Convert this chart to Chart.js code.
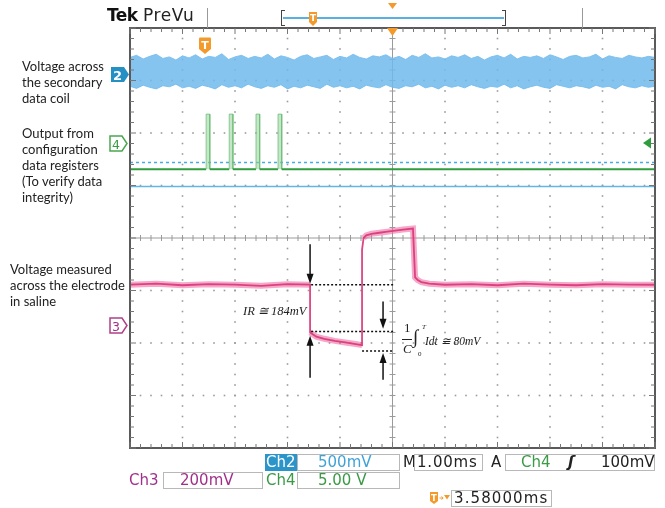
<!DOCTYPE html>
<html><head><meta charset="utf-8">
<script src="https://cdn.jsdelivr.net/npm/chart.js@4.4.1/dist/chart.umd.min.js"></script>
<style>
html,body{margin:0;padding:0;background:#fff;}
#wrap{position:relative;width:665px;height:508px;overflow:hidden;font-family:"DejaVu Sans",sans-serif;}
#c{position:absolute;left:0;top:0;}
.lab{position:absolute;font-family:Lato,"Open Sans",sans-serif;font-size:13px;line-height:16px;color:#222;white-space:nowrap;}
.box{position:absolute;border:1px solid #b8b8b8;background:#fff;box-sizing:border-box;height:17px;}
.ro{position:absolute;font-family:"DejaVu Sans",sans-serif;font-size:15px;line-height:17px;white-space:nowrap;}
.math{position:absolute;font-family:"Liberation Serif","DejaVu Serif",serif;font-style:italic;white-space:nowrap;line-height:1;color:#222;}
.abs{position:absolute;}
</style></head><body>
<div id="wrap">
<canvas id="c" width="665" height="508"></canvas>

<!-- header -->
<div class="abs" style="left:107px;top:5px;font-family:'DejaVu Sans';font-weight:bold;font-size:17px;line-height:20px;color:#111;letter-spacing:-0.5px;">Tek</div>
<div class="abs" style="left:143px;top:5px;font-family:'DejaVu Sans';font-size:17px;line-height:20px;color:#222;letter-spacing:0.6px;">PreVu</div>
<div class="abs" style="left:207px;top:8px;width:1px;height:20px;background:#999;"></div>
<div class="abs" style="left:582px;top:8px;width:1px;height:20px;background:#999;"></div>
<div class="abs" style="left:281px;top:10px;width:4px;height:16px;border:1.5px solid #444;border-right:none;box-sizing:border-box;"></div>
<div class="abs" style="left:502px;top:10px;width:4px;height:16px;border:1.5px solid #444;border-left:none;box-sizing:border-box;"></div>
<div class="abs" style="left:283px;top:17px;width:221px;height:2px;background:#5ab0e0;"></div>
<svg class="abs" style="left:308px;top:11px" width="10" height="16"><path d="M1,1 H9 V11 L5,15 L1,11 Z" fill="#f39a2b"/><text x="5" y="10" font-size="9" font-weight="bold" fill="#fff" text-anchor="middle" font-family="DejaVu Sans">T</text></svg>
<svg class="abs" style="left:388px;top:3px" width="9" height="7"><path d="M0,0 H9 L4.5,6 Z" fill="#f39a2b"/></svg>

<!-- in-plot markers -->
<svg class="abs" style="left:198px;top:37px" width="14" height="18"><path d="M1,1.5 Q1,0.5 2,0.5 H12 Q13,0.5 13,1.5 V12 L7,17 L1,12 Z" fill="#f39a2b"/><text x="7" y="12" font-size="11" font-weight="bold" fill="#fff" text-anchor="middle" font-family="DejaVu Sans">T</text></svg>
<svg class="abs" style="left:387px;top:28px" width="11" height="9"><path d="M0,0 H11 L5.5,8 Z" fill="#f39a2b"/></svg>
<svg class="abs" style="left:642px;top:137px" width="10" height="12"><path d="M9,0.5 V11.5 L1,6 Z" fill="#2f9c3e"/></svg>

<!-- channel markers -->
<svg class="abs" style="left:110px;top:66px" width="20" height="18"><path d="M1,1 H14 L19,8.5 L14,16 H1 Z" fill="#2590c4"/><text x="7.5" y="13.5" font-size="13" font-weight="bold" fill="#fff" text-anchor="middle" font-family="DejaVu Sans">2</text></svg>
<svg class="abs" style="left:109px;top:135px" width="20" height="18"><path d="M1,1 H13 L18,8.5 L13,16 H1 Z" fill="#fff" stroke="#49a84f" stroke-width="1.5"/><text x="7" y="13.5" font-size="12.5" fill="#3a9a45" text-anchor="middle" font-family="DejaVu Sans">4</text></svg>
<svg class="abs" style="left:109px;top:317px" width="20" height="18"><path d="M1,1 H13 L18,8.5 L13,16 H1 Z" fill="#fff" stroke="#b0408a" stroke-width="1.5"/><text x="7" y="13.5" font-size="12.5" fill="#a2308a" text-anchor="middle" font-family="DejaVu Sans">3</text></svg>

<!-- left labels -->
<div class="lab" style="left:22px;top:58px;">Voltage across<br>the secondary<br>data coil</div>
<div class="lab" style="left:22px;top:125px;">Output from<br>configuration<br>data registers<br>(To verify data<br>integrity)</div>
<div class="lab" style="left:10px;top:261px;">Voltage measured<br>across the electrode<br>in saline</div>

<!-- annotations -->
<div class="math" style="left:243px;top:305px;font-size:12.5px;">IR ≅ 184mV</div>
<div class="math" style="left:404px;top:321px;font-size:13px;font-style:normal;">1</div>
<div class="abs" style="left:402px;top:339px;width:10px;height:1px;background:#222;"></div>
<div class="math" style="left:403px;top:342px;font-size:13px;">C</div>
<div class="math" style="left:413px;top:327px;font-size:19px;font-style:normal;">∫</div>
<div class="math" style="left:422px;top:324px;font-size:7px;">T</div>
<div class="math" style="left:418px;top:351px;font-size:7px;font-style:normal;">0</div>
<div class="math" style="left:425px;top:336px;font-size:11.5px;">Idt ≅ 80mV</div>

<!-- bottom readouts -->
<div class="abs" style="left:265px;top:454px;width:32px;height:17px;background:#2b95c9;"></div>
<div class="ro" style="left:266px;top:454px;color:#fff;">Ch2</div>
<div class="box" style="left:297px;top:454px;width:103px;"></div>
<div class="ro" style="left:318px;top:454px;color:#3fa3d8;">500mV</div>
<div class="ro" style="left:403px;top:454px;color:#222;">M</div>
<div class="box" style="left:414px;top:454px;width:69px;"></div>
<div class="ro" style="left:417px;top:454px;color:#222;letter-spacing:0.8px;">1.00ms</div>
<div class="ro" style="left:491px;top:454px;color:#222;">A</div>
<div class="box" style="left:505px;top:454px;width:150px;"></div>
<div class="ro" style="left:521px;top:454px;color:#3a9a45;">Ch4</div>
<div class="ro" style="left:568px;top:454px;color:#222;font-style:italic;font-weight:bold;">ʃ</div>
<div class="ro" style="left:601px;top:454px;color:#222;">100mV</div>

<div class="ro" style="left:129px;top:472px;color:#a2308a;">Ch3</div>
<div class="box" style="left:163px;top:472px;width:100px;"></div>
<div class="ro" style="left:180px;top:472px;color:#a2308a;">200mV</div>
<div class="ro" style="left:266px;top:472px;color:#3a9a45;">Ch4</div>
<div class="box" style="left:297px;top:472px;width:103px;"></div>
<div class="ro" style="left:318px;top:472px;color:#3a9a45;">5.00 V</div>

<svg class="abs" style="left:429px;top:490px" width="22" height="16"><path d="M1,2 H9 V11 L5,14 L1,11 Z" fill="#f39a2b"/><text x="5" y="10.5" font-size="8.5" font-weight="bold" fill="#fff" text-anchor="middle" font-family="DejaVu Sans">T</text><path d="M10.5,8 H14 M12.5,6.5 L14.2,8 L12.5,9.5" stroke="#f39a2b" stroke-width="1" fill="none"/><path d="M15,5 H21 L18,9.5 Z" fill="#f39a2b"/></svg>
<div class="box" style="left:451px;top:490px;width:101px;"></div>
<div class="ro" style="left:454px;top:490px;color:#222;letter-spacing:1.1px;">3.58000ms</div>
</div>

<script>
// ---- data (time in divisions of 1.00 ms, voltage in divisions) ----
const ch2X = [0,0.125,0.25,0.375,0.5,0.625,0.75,0.875,1,1.125,1.25,1.375,1.5,1.625,1.75,1.875,2,2.125,2.25,2.375,2.5,2.625,2.75,2.875,3,3.125,3.25,3.375,3.5,3.625,3.75,3.875,4,4.125,4.25,4.375,4.5,4.625,4.75,4.875,5,5.125,5.25,5.375,5.5,5.625,5.75,5.875,6,6.125,6.25,6.375,6.5,6.625,6.75,6.875,7,7.125,7.25,7.375,7.5,7.625,7.75,7.875,8,8.125,8.25,8.375,8.5,8.625,8.75,8.875,9,9.125,9.25,9.375,9.5,9.625,9.75,9.875,10];
const ch2Upper = [3.44,3.48,3.41,3.46,3.50,3.42,3.45,3.39,3.47,3.43,
  3.49,3.41,3.46,3.44,3.51,3.40,3.45,3.48,3.42,3.46,
  3.43,3.50,3.41,3.47,3.44,3.39,3.46,3.49,3.42,3.45,
  3.48,3.40,3.46,3.43,3.50,3.44,3.41,3.47,3.45,3.49,
  3.42,3.46,3.40,3.48,3.44,3.51,3.43,3.45,3.41,3.47,
  3.44,3.49,3.42,3.46,3.39,3.45,3.48,3.43,3.50,3.41,
  3.46,3.44,3.47,3.42,3.49,3.45,3.40,3.46,3.48,3.43,
  3.45,3.50,3.41,3.47,3.44,3.42,3.48,3.45,3.43,3.46,3.44];
const ch2Lower = [2.89,2.85,2.91,2.87,2.84,2.90,2.88,2.93,2.86,2.89,
  2.85,2.91,2.88,2.84,2.92,2.87,2.90,2.86,2.93,2.88,
  2.85,2.90,2.87,2.92,2.84,2.89,2.86,2.91,2.88,2.85,
  2.93,2.87,2.90,2.86,2.89,2.84,2.91,2.88,2.86,2.92,
  2.87,2.85,2.90,2.88,2.93,2.86,2.89,2.84,2.91,2.87,
  2.90,2.86,2.92,2.88,2.85,2.89,2.87,2.93,2.86,2.90,
  2.84,2.88,2.91,2.87,2.85,2.92,2.89,2.86,2.90,2.88,
  2.85,2.91,2.87,2.89,2.84,2.92,2.88,2.86,2.90,2.87,2.89];

const ch4X = [0,1.45,1.45,1.52,1.52,1.89,1.89,1.96,1.96,2.40,2.40,2.47,2.47,2.82,2.82,2.89,2.89,10];
const ch4Y = [1.31,1.31,2.36,2.36,1.31,1.31,2.36,2.36,1.31,1.31,2.36,2.36,1.31,1.31,2.36,2.36,1.31,1.31];

const refX = [0,10];
const ch4TrigLevel = [1.44,1.44];
const ch2RefLevel = [0.98,0.98];

const ch3X = [0,0.5,1.0,1.5,2.0,2.5,3.0,3.43,3.43,3.55,3.7,3.9,4.1,4.3,4.42,4.42,4.45,4.5,4.6,4.75,4.9,5.05,5.2,5.39,5.43,5.48,5.55,5.7,6.0,6.5,7.0,7.5,8.0,8.5,9.0,9.5,10];
const ch3Y = [-0.89,-0.87,-0.90,-0.88,-0.89,-0.91,-0.88,-0.89,-1.80,-1.88,-1.92,-1.96,-1.99,-2.02,-2.04,-0.22,0.0,0.05,0.08,0.10,0.12,0.14,0.16,0.18,-0.75,-0.80,-0.84,-0.87,-0.89,-0.88,-0.90,-0.87,-0.89,-0.90,-0.88,-0.89,-0.89];

// measurement markers (divisions)
const measLevels = [-0.89,-1.78,-2.15];
const measStartX = [3.45,3.45,4.42];
const measEndX = [5.03,5.03,5.03];
const arrowX = [3.43,3.43,4.82,4.82];
const arrowFrom = [-0.12,-2.66,-1.21,-2.70];
const arrowTo = [-0.87,-1.86,-1.73,-2.19];

const pts = (xs, ys) => xs.map((x,i)=>({x, y: ys[i]}));

const scopeGrid = {
  id:'scopeGrid',
  beforeDatasetsDraw(chart){
    const {ctx, scales:{x,y}} = chart;
    ctx.save();
    ctx.fillStyle = '#9b9b9b';
    for (let i=1;i<10;i++){
      if (i===5) continue;
      const px = x.getPixelForValue(i);
      for (let m=0;m<=40;m++){ const py = y.getPixelForValue(-4+m*0.2); ctx.fillRect(px-0.8, py-0.8, 1.6, 1.6); }
    }
    for (let j=-3;j<=3;j++){
      if (j===0) continue;
      const py = y.getPixelForValue(j);
      for (let m=0;m<=50;m++){ const px = x.getPixelForValue(m*0.2); ctx.fillRect(px-0.8, py-0.8, 1.6, 1.6); }
    }
    const cx = x.getPixelForValue(5), cy = y.getPixelForValue(0);
    ctx.strokeStyle = '#9a9a9a'; ctx.lineWidth = 1;
    ctx.beginPath();
    ctx.moveTo(chart.chartArea.left, cy); ctx.lineTo(chart.chartArea.right, cy);
    ctx.moveTo(cx, chart.chartArea.top); ctx.lineTo(cx, chart.chartArea.bottom);
    for (let m=0;m<=50;m++){ const px = x.getPixelForValue(m*0.2); ctx.moveTo(px, cy-3); ctx.lineTo(px, cy+3); }
    for (let m=0;m<=40;m++){ const py = y.getPixelForValue(-4+m*0.2); ctx.moveTo(cx-3, py); ctx.lineTo(cx+3, py); }
    ctx.stroke();
    ctx.restore();
  },
  afterDatasetsDraw(chart){
    const {ctx, scales:{x,y}, chartArea:a} = chart;
    ctx.save();
    ctx.strokeStyle = '#111'; ctx.lineWidth = 1.5; ctx.setLineDash([2,2]);
    measLevels.forEach((lv,i)=>{
      const py = y.getPixelForValue(lv);
      ctx.beginPath(); ctx.moveTo(x.getPixelForValue(measStartX[i]), py); ctx.lineTo(x.getPixelForValue(measEndX[i]), py); ctx.stroke();
    });
    ctx.setLineDash([]);
    ctx.fillStyle = '#111'; ctx.lineWidth = 1.5;
    arrowX.forEach((ax,i)=>{
      const px = x.getPixelForValue(ax), p0 = y.getPixelForValue(arrowFrom[i]), p1 = y.getPixelForValue(arrowTo[i]);
      const dir = p1 > p0 ? 1 : -1;
      ctx.beginPath(); ctx.moveTo(px, p0); ctx.lineTo(px, p1 - dir*8); ctx.stroke();
      ctx.beginPath(); ctx.moveTo(px, p1); ctx.lineTo(px-3.5, p1 - dir*10); ctx.lineTo(px+3.5, p1 - dir*10); ctx.closePath(); ctx.fill();
    });
    ctx.strokeStyle = '#5a5a5a'; ctx.lineWidth = 2;
    ctx.strokeRect(a.left, a.top, a.right-a.left, a.bottom-a.top);
    ctx.lineWidth = 1; ctx.strokeStyle = '#777';
    ctx.beginPath();
    for (let m=0;m<=50;m++){ const px = x.getPixelForValue(m*0.2); const l = (m%5===0)?6:4;
      ctx.moveTo(px, a.top); ctx.lineTo(px, a.top+l); ctx.moveTo(px, a.bottom); ctx.lineTo(px, a.bottom-l); }
    for (let m=0;m<=40;m++){ const py = y.getPixelForValue(-4+m*0.2); const l = (m%5===0)?6:4;
      ctx.moveTo(a.left, py); ctx.lineTo(a.left+l, py); ctx.moveTo(a.right, py); ctx.lineTo(a.right-l, py); }
    ctx.stroke();
    ctx.restore();
  }
};

const thin = c => (ctx => Math.abs(ctx.p1.x - ctx.p0.x) < 2 ? 'rgba(0,0,0,0)' : c);

new Chart(document.getElementById('c'), {
  type:'line',
  data:{ datasets:[
    { data: pts(ch3X, ch3Y), borderColor:'rgba(218,60,125,0.95)', borderWidth:1.8, pointRadius:0, tension:0 },
    { data: pts(ch3X, ch3Y), borderColor:'rgba(238,110,162,0.6)', borderWidth:6, pointRadius:0, tension:0,
      segment:{ borderColor: thin('rgba(238,110,162,0.6)') } },
    { data: pts(ch4X, ch4Y), borderColor:'#2f9c3e', borderWidth:2, pointRadius:0, tension:0,
      fill:{value:1.31}, backgroundColor:'rgba(150,210,155,0.55)',
      segment:{ borderColor: c => (c.p0.parsed.y>1.5 || c.p1.parsed.y>1.5) ? 'rgba(110,190,120,0.8)' : '#2f9c3e',
                borderWidth: c => (c.p0.parsed.y>1.5 || c.p1.parsed.y>1.5) ? 1 : 2 } },
    { data: pts(refX, ch4TrigLevel), borderColor:'#45aee0', borderWidth:1.5, borderDash:[3,3], pointRadius:0 },
    { data: pts(refX, ch2RefLevel), borderColor:'#62b6e6', borderWidth:1.5, pointRadius:0 },
    { data: pts(ch2X, ch2Upper), borderColor:'rgba(120,190,238,0.9)', borderWidth:1, pointRadius:0, tension:0,
      fill:{target:6}, backgroundColor:'rgba(112,186,236,0.85)' },
    { data: pts(ch2X, ch2Lower), borderColor:'rgba(120,190,238,0.9)', borderWidth:1, pointRadius:0, tension:0 }
  ]},
  options:{
    responsive:false, animation:false, devicePixelRatio:1,
    layout:{ padding:{ left:130, top:28, right:10, bottom:60 } },
    scales:{
      x:{ type:'linear', min:0, max:10, display:false },
      y:{ type:'linear', min:-4, max:4, display:false }
    },
    plugins:{ legend:{display:false}, tooltip:{enabled:false} }
  },
  plugins:[scopeGrid]
});
</script>
</body></html>
